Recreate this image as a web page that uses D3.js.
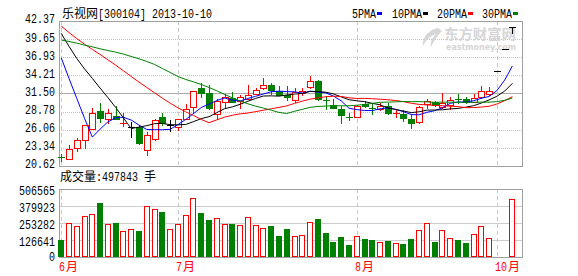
<!DOCTYPE html>
<html>
<head>
<meta charset="utf-8">
<script src="https://cdn.jsdelivr.net/npm/d3@7"></script>
<style>
  body { margin: 0; background: #fff; }
  svg { display: block; }
</style>
</head>
<body>
<div id="kline"></div>
<script>
// daily bars, 6月 -> 10月 2013
var open = [21.90, 21.62, 23.28, 24.52, 26.13, 28.87, 27.62, 28.12, 26.98, 26.43,
            26.52, 23.02, 24.62, 27.97, 26.72, 26.43, 27.72, 29.42, 32.27, 31.52,
            28.38, 30.27, 30.77, 30.42, 30.72, 31.42, 32.27, 32.72, 31.82, 31.27,
            30.52, 31.62, 32.42, 33.37, 30.52, 29.72, 29.17, 28.02, 28.02, 29.87,
            29.30, 29.12, 29.62, 28.40, 28.42, 27.72, 27.27, 29.92, 30.27, 29.42,
            29.77, 30.60, 30.62, 30.27, 30.92, 31.42, 34.82, 38.10, 41.50];
var high = [22.37, 23.72, 24.77, 26.80, 29.28, 30.02, 29.12, 29.62, 28.53, 27.27,
            26.60, 25.77, 27.60, 28.53, 27.52, 27.70, 29.92, 31.90, 33.02, 32.77,
            30.72, 31.42, 31.77, 31.27, 32.77, 32.27, 33.77, 33.12, 32.62, 32.62,
            32.27, 32.27, 34.12, 33.50, 31.12, 30.62, 29.62, 28.62, 29.70, 30.42,
            30.02, 30.02, 30.10, 29.02, 29.02, 28.38, 29.60, 30.72, 30.40, 31.62,
            30.92, 31.42, 30.90, 31.42, 32.62, 32.52, 34.82, 38.10, 41.50];
var low = [21.41, 21.62, 22.92, 23.37, 26.10, 27.27, 27.02, 27.60, 26.62, 25.02,
           23.90, 22.27, 24.50, 26.70, 25.92, 26.02, 27.70, 28.53, 31.02, 29.20,
           27.62, 29.52, 30.20, 29.28, 30.60, 31.40, 32.20, 31.42, 31.20, 30.52,
           30.27, 31.27, 32.30, 30.50, 29.12, 29.27, 27.02, 27.52, 27.90, 29.42,
           28.38, 29.00, 28.40, 27.92, 27.42, 26.37, 27.10, 29.28, 29.60, 29.30,
           29.12, 30.02, 30.00, 30.20, 30.80, 31.30, 34.82, 38.10, 40.50];
var close = [21.85, 23.12, 24.52, 26.72, 28.53, 27.87, 28.53, 27.72, 27.02, 26.43,
             24.12, 25.22, 27.52, 27.02, 26.72, 27.62, 29.12, 31.87, 31.62, 29.28,
             30.32, 31.02, 30.27, 30.92, 31.22, 31.97, 32.72, 32.02, 31.27, 30.92,
             31.77, 31.87, 33.37, 30.62, 30.32, 29.37, 28.27, 27.82, 29.62, 29.67,
             29.25, 29.62, 28.53, 28.55, 27.87, 27.12, 29.42, 30.37, 29.77, 30.02,
             30.52, 30.45, 30.27, 30.77, 31.87, 31.87, 34.82, 38.10, 41.50];
var volume = [123700, 255500, 230900, 305400, 322600, 404500, 248100, 255500, 195900, 208600,
              195900, 379900, 357600, 337500, 208600, 248100, 312900, 440491, 330000, 277900,
              290500, 245800, 248100, 238400, 298000, 238400, 216000, 233200, 158700, 210800,
              156400, 163900, 263000, 285300, 181000, 114000, 151200, 91600, 156400, 134100,
              128900, 111700, 121400, 104300, 99100, 136300, 201100, 253300, 114000, 201100,
              141500, 128900, 106500, 171300, 230900, 141500, 8000, 8000, 432000];

// moving averages
var ma5 = [36.86, 33.77, 30.77, 27.77, 24.95, 26.15, 27.23, 27.87, 27.93, 27.51,
           26.76, 26.10, 26.06, 26.06, 26.12, 26.82, 27.60, 28.47, 29.39, 29.90,
           30.44, 30.82, 30.50, 30.36, 30.75, 31.08, 31.42, 31.77, 31.84, 31.78,
           31.74, 31.57, 31.84, 31.71, 31.59, 31.11, 30.39, 29.28, 29.08, 28.95,
           28.93, 29.20, 29.34, 29.12, 28.76, 28.34, 28.30, 28.67, 28.91, 29.34,
           30.02, 30.23, 30.21, 30.41, 30.78, 31.05, 31.92, 33.49, 35.63];
var ma10 = [40.52, 38.57, 36.76, 35.18, 33.77, 32.30, 30.89, 29.40, 27.84, 26.23,
            26.46, 26.67, 26.97, 27.00, 26.82, 26.79, 26.85, 27.27, 27.73, 28.01,
            28.63, 29.21, 29.49, 29.88, 30.33, 30.76, 31.12, 31.14, 31.10, 31.27,
            31.41, 31.50, 31.81, 31.78, 31.69, 31.43, 30.98, 30.56, 30.40, 30.27,
            30.02, 29.79, 29.31, 29.10, 28.86, 28.63, 28.75, 29.00, 29.02, 29.05,
            29.18, 29.26, 29.44, 29.66, 30.06, 30.53, 31.07, 31.85, 33.02];
var ma20 = [41.62, 40.64, 39.74, 38.90, 38.10, 37.35, 36.55, 35.75, 34.90, 34.05,
            33.20, 32.40, 31.60, 30.80, 30.05, 29.35, 28.75, 28.20, 27.60, 27.12,
            27.54, 27.94, 28.23, 28.44, 28.57, 28.78, 28.99, 29.20, 29.41, 29.64,
            30.02, 30.35, 30.65, 30.83, 31.01, 31.09, 31.05, 30.85, 30.75, 30.77,
            30.71, 30.64, 30.56, 30.44, 30.27, 30.03, 29.86, 29.78, 29.71, 29.66,
            29.60, 29.53, 29.37, 29.38, 29.46, 29.58, 29.91, 30.42, 31.02];
var ma30 = [39.52, 39.30, 39.05, 38.75, 38.50, 38.20, 37.95, 37.70, 37.40, 37.05,
            36.70, 36.30, 35.85, 35.25, 34.65, 34.05, 33.60, 33.25, 32.85, 32.40,
            31.90, 31.35, 30.85, 30.35, 29.95, 29.60, 29.30, 29.00, 28.65, 28.50,
            28.83, 29.12, 29.42, 29.55, 29.61, 29.66, 29.65, 29.65, 29.74, 29.85,
            30.02, 30.17, 30.20, 30.25, 30.29, 30.27, 30.28, 30.23, 30.17, 30.20,
            30.20, 30.18, 30.18, 30.18, 30.20, 30.20, 30.27, 30.47, 30.81];

var priceTicks = ["42.37", "39.65", "36.93", "34.21", "31.50", "28.78", "26.06", "23.34", "20.62"];
var volTicks = ["506565", "379923", "253282", "126641", "0"];
var monthIdx = [0, 15, 38, 56];
var monthLabels = ["6月", "7月", "8月", "10月"];
var maNames = ["5PMA", "10PMA", "20PMA", "30PMA"];
var maColors = ["#0000ff", "#000000", "#ff0000", "#008000"];

var svgWidth = 578;
var svgHeight = 276;
var left = 59, right = 522;
var pTop = 21, pBottom = 166;
var vTop = 189, vBottom = 257;

var RED = "#ff0000", GREEN = "#008000";
var monoFont = "'Liberation Mono', 'DejaVu Sans Mono', monospace";
var cjkFont = "'Noto Sans CJK SC', sans-serif";

var svg = d3.select("#kline")
  .append("svg")
  .attr("width", svgWidth)
  .attr("height", svgHeight);

// scales
var x = d3.scaleLinear().domain([0, close.length - 1]).range([61.2, 512.4]);
var y = d3.scaleLinear().domain([20.62, 42.37]).range([pBottom, pTop]);
var yv = d3.scaleLinear().domain([0, 506565]).range([vBottom, vTop]);

function px(i) { return Math.round(x(i)); }

// 10px mono is 6px per char, stretched up to look like the 12px bitmap font
function monoText(parent, tx, ty, str, fill) {
  return parent.append("text")
    .attr("transform", `translate(${tx},${ty}) scale(1,1.2)`)
    .attr("font-family", monoFont)
    .attr("font-size", 10)
    .attr("fill", fill || "#000")
    .text(str);
}
function cjkText(parent, tx, ty, str, fill) {
  return parent.append("text")
    .attr("x", tx).attr("y", ty)
    .attr("font-family", cjkFont)
    .attr("font-size", 12)
    .attr("fill", fill || "#000")
    .text(str);
}

var grid = svg.append("g").attr("shape-rendering", "crispEdges");

// price grid
grid.selectAll(".pgrid")
  .data(priceTicks.slice(1, -1))
  .enter()
  .append("line")
  .attr("x1", left).attr("x2", right)
  .attr("y1", d => Math.round(y(+d)) + 0.5)
  .attr("y2", d => Math.round(y(+d)) + 0.5)
  .attr("stroke", d => d === "31.50" ? "#a8a8a8" : "#c4c4c4")
  .attr("stroke-dasharray", d => d === "31.50" ? null : "1,1");

// volume grid
grid.selectAll(".vgrid")
  .data(volTicks.slice(1, -1))
  .enter()
  .append("line")
  .attr("x1", left).attr("x2", right)
  .attr("y1", d => Math.round(yv(+d)) + 0.5)
  .attr("y2", d => Math.round(yv(+d)) + 0.5)
  .attr("stroke", "#cccccc");

// month separators
monthIdx.forEach(function(m) {
  var mx = px(m) + 0.5;
  [[pTop, pBottom], [vTop, vBottom]].forEach(function(r) {
    grid.append("line")
      .attr("x1", mx).attr("x2", mx)
      .attr("y1", r[0]).attr("y2", r[1])
      .attr("stroke", "#c8c8c8")
      .attr("stroke-dasharray", "4,3");
  });
});

// watermark
var wm = svg.append("g").attr("fill", "#d6d6d6");
wm.append("path")
  .attr("d", "M438,28 C428,30 422,38 423,46 C426,40 430,36 436,34 C432,38 430,42 431,47 C434,40 438,35 442,31 Z");
wm.append("text").attr("x", 444).attr("y", 39)
  .attr("font-family", cjkFont).attr("font-size", 14).attr("font-weight", "bold")
  .attr("textLength", 72).attr("lengthAdjust", "spacingAndGlyphs")
  .text("东方财富网");
wm.append("text").attr("x", 446).attr("y", 50)
  .attr("font-family", "'DejaVu Sans', sans-serif").attr("font-size", 9).attr("font-weight", "bold")
  .attr("textLength", 70).attr("lengthAdjust", "spacingAndGlyphs")
  .text("eastmoney.com");

// frames
var frame = svg.append("g").attr("shape-rendering", "crispEdges")
  .attr("fill", "none").attr("stroke", "#a0a0a0");
frame.append("rect").attr("x", left + 0.5).attr("y", pTop + 0.5)
  .attr("width", right - left).attr("height", pBottom - pTop);
frame.append("rect").attr("x", left + 0.5).attr("y", vTop + 0.5)
  .attr("width", right - left).attr("height", vBottom - vTop);

// axis labels
var pAxis = svg.append("g")
  .attr("transform", "translate(55,0)")
  .call(d3.axisLeft(y).tickValues(priceTicks.map(Number)).tickSize(0).tickPadding(0)
    .tickFormat((d, i) => priceTicks[i]));
pAxis.select(".domain").remove();
pAxis.selectAll("text")
  .attr("x", 0).attr("dy", null).attr("y", 2.5)
  .attr("transform", "scale(1,1.2)")
  .attr("font-family", monoFont).attr("font-size", 10)
  .attr("fill", "#000");

var vAxis = svg.append("g")
  .attr("transform", "translate(55,0)")
  .call(d3.axisLeft(yv).tickValues(volTicks.map(Number)).tickSize(0).tickPadding(0)
    .tickFormat((d, i) => volTicks[i]));
vAxis.select(".domain").remove();
vAxis.selectAll("text")
  .attr("x", 0).attr("dy", null)
  .attr("y", (d, i) => volTicks[i] === "0" ? 4 : 5.8)
  .attr("transform", "scale(1,1.2)")
  .attr("font-family", monoFont).attr("font-size", 10)
  .attr("fill", "#000");
// the scale() also moves the tick groups' text, so undo it on the group offset
pAxis.selectAll(".tick").attr("transform", d => `translate(0,${y(d) - y(d) / 1.2 * 1.2})`);
pAxis.selectAll(".tick text").attr("y", d => (y(d) + 2.5) / 1.2);
vAxis.selectAll(".tick").attr("transform", "translate(0,0)");
vAxis.selectAll(".tick text").attr("y", (d, i) => (yv(d) + (volTicks[i] === "0" ? 4.5 : 6.5)) / 1.2);

// volume bars
var bars = svg.append("g").attr("shape-rendering", "crispEdges");
bars.selectAll("rect")
  .data(volume)
  .enter()
  .append("rect")
  .attr("x", (d, i) => px(i) - 2.5)
  .attr("y", d => Math.round(yv(d)) + 0.5)
  .attr("width", 5)
  .attr("height", d => Math.max(0, vBottom - Math.round(yv(d)) - 1))
  .attr("fill", (d, i) => close[i] >= open[i] ? "#fff" : GREEN)
  .attr("stroke", (d, i) => close[i] >= open[i] ? RED : GREEN);

// candles
var candles = svg.append("g").attr("shape-rendering", "crispEdges");
d3.range(close.length).forEach(function(i) {
  var o = open[i], c = close[i];
  var color = c > o ? RED : (c < o ? GREEN : "#000");
  var cx = px(i);
  var top = Math.round(y(Math.max(o, c))), bot = Math.round(y(Math.min(o, c)));
  candles.append("line")
    .attr("x1", cx + 0.5).attr("x2", cx + 0.5)
    .attr("y1", Math.round(y(high[i]))).attr("y2", Math.round(y(low[i])) + 1)
    .attr("stroke", color);
  if (bot - top < 2) {
    candles.append("line")
      .attr("x1", cx - 3).attr("x2", cx + 4)
      .attr("y1", top + 0.5).attr("y2", top + 0.5)
      .attr("stroke", color);
  } else {
    candles.append("rect")
      .attr("x", cx - 2.5).attr("y", top + 0.5)
      .attr("width", 6).attr("height", bot - top)
      .attr("fill", c > o ? "#fff" : color)
      .attr("stroke", color);
  }
});

// moving averages
var line = d3.line()
  .x((d, i) => x(i))
  .y(d => y(d));

[ma5, ma10, ma20, ma30].forEach(function(series, k) {
  svg.append("path")
    .datum(series)
    .attr("d", line)
    .attr("fill", "none")
    .attr("stroke", maColors[k])
    .attr("stroke-width", 1);
});

// header
cjkText(svg, 62, 18, "乐视网");
monoText(svg, 98, 18, "[300104] 2013-10-10");

// legend
var legendX = [352, 392, 437, 482];
maNames.forEach(function(n, k) {
  monoText(svg, legendX[k], 18, n);
  svg.append("rect")
    .attr("x", legendX[k] + n.length * 6 + 1).attr("y", 12)
    .attr("width", 5).attr("height", 3)
    .attr("fill", maColors[k]);
});

// volume caption
cjkText(svg, 60, 180.5, "成交量");
monoText(svg, 96, 180.5, ":497843");
cjkText(svg, 144, 180.5, "手");

// month labels
monthLabels.forEach(function(lbl, k) {
  var lx = px(monthIdx[k]) - 2;
  var num = lbl.replace("月", "");
  monoText(svg, lx, 271, num, RED);
  cjkText(svg, lx + num.length * 6 + 1, 271, "月", RED);
});
</script>
</body>
</html>
